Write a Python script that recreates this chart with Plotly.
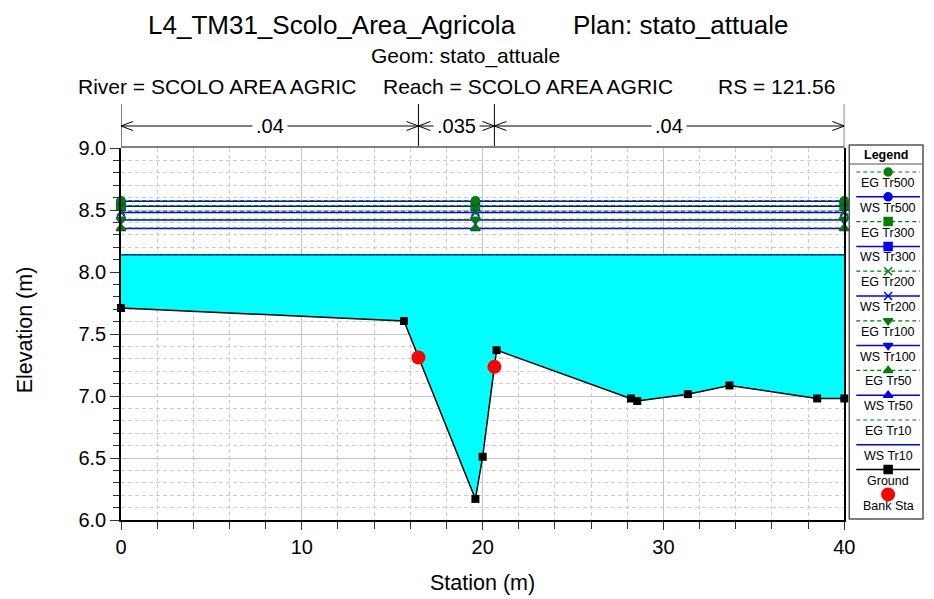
import plotly.graph_objects as go

# ---------------- data ----------------
ground_x = [0, 15.65, 19.6, 20.0, 20.77, 28.2, 28.55, 31.35, 33.65, 38.5, 40]
ground_y = [7.71, 7.605, 6.17, 6.51, 7.37, 6.98, 6.96, 7.015, 7.085, 6.98, 6.98]
bank_x = [16.45, 20.65]
bank_y = [7.31, 7.235]
n_values = [0.04, 0.035, 0.04]
profiles = ["Tr500", "Tr300", "Tr200", "Tr100", "Tr50", "Tr10"]
ws_elev = [8.57, 8.53, 8.48, 8.42, 8.35, 8.14]
eg_elev = [8.575, 8.535, 8.49, 8.425, 8.355, 8.14]
marker_stations = [0, 19.6, 40]
x_ticks = [0, 10, 20, 30, 40]
y_ticks = [6.0, 6.5, 7.0, 7.5, 8.0, 8.5, 9.0]

# ---------------- styles ----------------
FONT = "Liberation Sans"
GREEN = "#008000"
BLUE = "#0000FF"
CYAN = "#00FFFF"
symbols = {"Tr500": "circle", "Tr300": "square", "Tr200": "x-thin-open",
           "Tr100": "triangle-down", "Tr50": "triangle-up", "Tr10": None}
OFF = 8            # browser body margin
SX = 0.9897        # observed horizontal scale of the capture
W, H = 927, 599 - OFF
# layout positions below are given in target picture pixels
PL, PR, PT, PB = 120, 846, 148, 520       # plot area
LX0, LX1, LY0, LY1 = 851, 925, 145, 519   # legend box


def vx(p):
    return p / SX


ML = vx(PL) - OFF
MT = LY0 - OFF
MB = H - (PB - OFF)
MR = W - (vx(LX1) - OFF)
PW, PH = W - ML - MR, H - MT - MB


def px_x(p):
    return (vx(p) - OFF - ML) / PW


def px_y(p):
    return (H - MB - (p - OFF)) / PH


fig = go.Figure()

# water fill (lowest profile) down to ground
fig.add_trace(go.Scatter(
    x=ground_x + [ground_x[-1], ground_x[0]],
    y=ground_y + [ws_elev[-1], ws_elev[-1]],
    fill="toself", fillcolor=CYAN, mode="lines", line=dict(width=0),
    hoverinfo="skip", showlegend=False))

# profile lines (drawn from lowest to highest)
for prof, ws, eg in reversed(list(zip(profiles, ws_elev, eg_elev))):
    sym = symbols[prof]
    xs = marker_stations
    mode = "lines+markers" if sym else "lines"
    fig.add_trace(go.Scatter(
        x=xs, y=[ws] * len(xs), mode=mode, name="WS " + prof,
        line=dict(color=BLUE, width=1.5),
        marker=dict(symbol=sym, size=8, color=BLUE, line=dict(color=BLUE, width=1.5)) if sym else None,
        cliponaxis=False, showlegend=False))
    fig.add_trace(go.Scatter(
        x=xs, y=[eg] * len(xs), mode=mode, name="EG " + prof,
        line=dict(color=GREEN, width=1.2, dash="4px,3px"),
        marker=dict(symbol=sym, size=8, color=GREEN, line=dict(color=GREEN, width=1.5)) if sym else None,
        cliponaxis=False, showlegend=False))

# ground
fig.add_trace(go.Scatter(
    x=ground_x, y=ground_y, mode="lines+markers", name="Ground",
    line=dict(color="black", width=1.5),
    marker=dict(symbol="square", size=8, color="black"),
    cliponaxis=False, showlegend=False))

# bank stations
fig.add_trace(go.Scatter(
    x=bank_x, y=bank_y, mode="markers", name="Bank Sta",
    marker=dict(symbol="circle", size=14, color="red"),
    cliponaxis=False, showlegend=False))

# ---------------- custom legend (on hidden axes x2/y2 in picture-pixel units) ----------------
legend_items = []
for prof in profiles:
    legend_items.append(("EG " + prof, GREEN, "4px,3px", symbols[prof]))
    legend_items.append(("WS " + prof, BLUE, "solid", symbols[prof]))
legend_items.append(("Ground", "black", "solid", "square"))

for i, (lab, col, dash, sym) in enumerate(legend_items):
    ly = 172 + 24.8 * i
    fig.add_trace(go.Scatter(
        x=[858, 922], y=[ly, ly], mode="lines", xaxis="x2", yaxis="y2",
        line=dict(color=col, width=1.5 if dash == "solid" else 1.2, dash=dash),
        hoverinfo="skip", showlegend=False, cliponaxis=False))
    if sym:
        fig.add_trace(go.Scatter(
            x=[890], y=[ly], mode="markers", xaxis="x2", yaxis="y2",
            marker=dict(symbol=sym, size=8, color=col, line=dict(color=col, width=1.5)),
            hoverinfo="skip", showlegend=False, cliponaxis=False))
    fig.add_annotation(x=890, y=ly + 11, xref="x2", yref="y2", text=lab,
                       showarrow=False, yanchor="middle",
                       font=dict(family=FONT, size=12.5, color="black"))

ly = 172 + 24.8 * len(legend_items)
fig.add_trace(go.Scatter(
    x=[890], y=[ly], mode="markers", xaxis="x2", yaxis="y2",
    marker=dict(symbol="circle", size=14, color="red"),
    hoverinfo="skip", showlegend=False, cliponaxis=False))
fig.add_annotation(x=890, y=ly + 12, xref="x2", yref="y2", text="Bank Sta",
                   showarrow=False, yanchor="middle",
                   font=dict(family=FONT, size=12.5, color="black"))
fig.add_annotation(x=888, y=154.5, xref="x2", yref="y2", text="<b>Legend</b>",
                   showarrow=False, yanchor="middle",
                   font=dict(family=FONT, size=12.5, color="black"))

shapes = []
shapes.append(dict(type="rect", xref="paper", yref="paper",
                   x0=px_x(LX0), x1=px_x(LX1), y0=px_y(LY1), y1=px_y(LY0),
                   line=dict(color="#555555", width=1.5), fillcolor="rgba(0,0,0,0)"))
shapes.append(dict(type="line", xref="paper", yref="paper",
                   x0=px_x(LX0), x1=px_x(LX1), y0=px_y(164), y1=px_y(164),
                   line=dict(color="#555555", width=1)))

# ---------------- roughness (n) annotations above plot ----------------
breaks = [ground_x[0]] + bank_x + [ground_x[-1]]
ARROW_Y = px_y(126)
dx = 12 / ((PR - PL) / 40.0)
dy = 4.5 / PH
for b in breaks:
    shapes.append(dict(type="line", xref="x", yref="paper", x0=b, x1=b,
                       y0=px_y(104), y1=px_y(148), line=dict(color="black", width=1)))
for i, n in enumerate(n_values):
    a, b = breaks[i], breaks[i + 1]
    shapes.append(dict(type="line", xref="x", yref="paper", x0=a, x1=b,
                       y0=ARROW_Y, y1=ARROW_Y, line=dict(color="black", width=1)))
    shapes.append(dict(type="path", xref="x", yref="paper",
                       path=f"M {a + dx},{ARROW_Y + dy} L {a},{ARROW_Y} L {a + dx},{ARROW_Y - dy}",
                       line=dict(color="black", width=1)))
    shapes.append(dict(type="path", xref="x", yref="paper",
                       path=f"M {b - dx},{ARROW_Y + dy} L {b},{ARROW_Y} L {b - dx},{ARROW_Y - dy}",
                       line=dict(color="black", width=1)))
    lab = f"{n:g}".lstrip("0")
    fig.add_annotation(x=(a + b) / 2, y=ARROW_Y, xref="x", yref="paper", text=lab,
                       showarrow=False, bgcolor="white", borderpad=3,
                       xanchor="center", yanchor="middle",
                       font=dict(family=FONT, size=20, color="black"))

# top border of plot (gray)
shapes.append(dict(type="line", xref="paper", yref="paper", x0=px_x(PL), x1=px_x(PR),
                   y0=px_y(147), y1=px_y(147), line=dict(color="#808080", width=2)))


# ---------------- titles ----------------
def txt(x, y, s, size, xanchor="center", angle=0):
    fig.add_annotation(x=px_x(x), y=px_y(y), xref="paper", yref="paper", text=s,
                       showarrow=False, xanchor=xanchor, yanchor="middle", textangle=angle,
                       font=dict(family=FONT, size=size, color="black"))


txt(145, 25, "L4_TM31_Scolo_Area_Agricola", 26, "left")
txt(572, 25, "Plan: stato_attuale", 26, "left")
txt(466, 56, "Geom: stato_attuale", 21)
txt(75, 87, "River = SCOLO AREA AGRIC", 21, "left")
txt(381, 87, "Reach = SCOLO AREA AGRIC", 21, "left")
txt(717, 87, "RS = 121.56", 21, "left")
txt(24, 330, "Elevation (m)", 21.5, angle=-90)
txt(483, 583, "Station (m)", 21.5)

fig.update_layout(
    width=W, height=H, margin=dict(l=ML, r=MR, t=MT, b=MB, pad=0),
    paper_bgcolor="white", plot_bgcolor="white", showlegend=False,
    font=dict(family=FONT, color="black"),
    shapes=shapes,
    xaxis=dict(domain=[0, px_x(PR)], range=[0, 40], tickvals=x_ticks,
               ticks="outside", ticklen=8, tickwidth=1, tickcolor="#333333",
               showline=True, linecolor="black", linewidth=1.5, mirror=False,
               showgrid=True, gridcolor="#C4C4C4", gridwidth=1,
               tickfont=dict(family=FONT, size=20, color="black"), zeroline=False,
               minor=dict(dtick=2, ticks="outside", ticklen=7, tickcolor="#333333",
                          showgrid=True, gridcolor="#CDCDCD", griddash="4px,3px", gridwidth=1)),
    yaxis=dict(domain=[0, px_y(PT)], range=[6, 9], tickvals=y_ticks, tickformat=".1f",
               ticks="outside", ticklen=9, tickwidth=1, tickcolor="#333333",
               showline=True, linecolor="black", linewidth=1.5, mirror=True,
               showgrid=True, gridcolor="#C4C4C4", gridwidth=1,
               tickfont=dict(family=FONT, size=20, color="black"), zeroline=False,
               minor=dict(dtick=0.1, ticks="outside", ticklen=6, tickcolor="#333333",
                          showgrid=True, gridcolor="#CDCDCD", griddash="4px,3px", gridwidth=1)),
    xaxis2=dict(domain=[px_x(LX0), px_x(LX1)], range=[vx(LX0) * SX, vx(LX1) * SX],
                visible=False, anchor="y2", fixedrange=True),
    yaxis2=dict(domain=[px_y(LY1), px_y(LY0)], range=[LY1, LY0], visible=False,
                anchor="x2", fixedrange=True),
)

fig.write_html("out.html")
